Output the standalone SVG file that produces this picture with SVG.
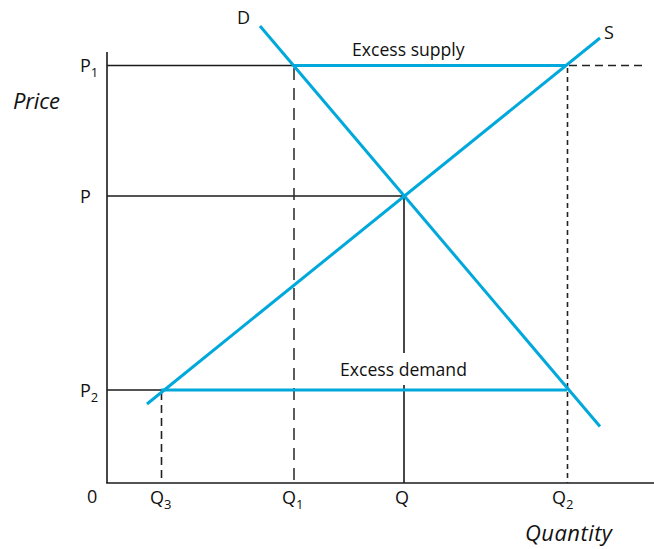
<svg xmlns="http://www.w3.org/2000/svg" width="654" height="549" viewBox="0 0 654 549">
<style>
.ax{stroke:#1a1a1a;stroke-width:1.6;fill:none}
.bl{stroke:#00a8dc;stroke-width:3;fill:none;stroke-linecap:butt}
.d1{stroke:#333;stroke-width:1.6;stroke-dasharray:12 8;fill:none}
.d2{stroke:#222;stroke-width:1.6;stroke-dasharray:8 5;fill:none}
.d3{stroke:#222;stroke-width:1.6;stroke-dasharray:5 4;fill:none}
text{font-family:"Open Sans","Noto Sans","Liberation Sans",sans-serif;font-size:18px;fill:#111}
.ex{font-size:17.6px}
.it{font-style:italic;font-size:22px}
.sub{font-size:13px}
</style>
<rect width="654" height="549" fill="#fff"/>
<g id="axes">
<line class="ax" x1="107" y1="52" x2="107" y2="483"/>
<line class="ax" x1="106.2" y1="483" x2="654" y2="483"/>
</g>
<g id="connectors">
<line class="ax" x1="107" y1="65.5" x2="294" y2="65.5"/>
<line class="ax" x1="107" y1="196" x2="404" y2="196"/>
<line class="ax" x1="107" y1="390" x2="161" y2="390"/>
<line class="ax" x1="404" y1="196" x2="404" y2="353"/>
<line class="ax" x1="404" y1="385" x2="404" y2="483"/>
<line class="d1" x1="294" y1="68" x2="294" y2="483"/>
<line class="d2" x1="161.5" y1="392" x2="161.5" y2="483"/>
<line class="d3" x1="567.5" y1="68" x2="567.5" y2="483"/>
<line class="d2" x1="569" y1="65.5" x2="642" y2="65.5"/>
<line class="bl" x1="294" y1="65.5" x2="567" y2="65.5"/>
<line class="bl" x1="161" y1="390" x2="567" y2="390"/>
<line class="bl" x1="260" y1="26" x2="600" y2="426.5"/>
<line class="bl" x1="147" y1="404" x2="600" y2="38"/>
</g>
<g id="labels">
<text x="237" y="24">D</text>
<text x="604" y="39">S</text>
<text class="ex" x="352" y="56">Excess supply</text>
<text class="ex" x="340" y="376">Excess demand</text>
<text x="80" y="72">P<tspan class="sub" dy="5">1</tspan></text>
<text x="80" y="203">P</text>
<text x="80" y="397">P<tspan class="sub" dy="5">2</tspan></text>
<text class="it" x="13" y="109" textLength="47" lengthAdjust="spacing">Price</text>
<text x="87" y="503">0</text>
<text x="150" y="504">Q<tspan class="sub" dy="5">3</tspan></text>
<text x="282" y="504">Q<tspan class="sub" dy="5">1</tspan></text>
<text x="395" y="504">Q</text>
<text x="552" y="504">Q<tspan class="sub" dy="5">2</tspan></text>
<text class="it" x="525" y="541" textLength="87" lengthAdjust="spacing">Quantity</text>
</g>
</svg>
